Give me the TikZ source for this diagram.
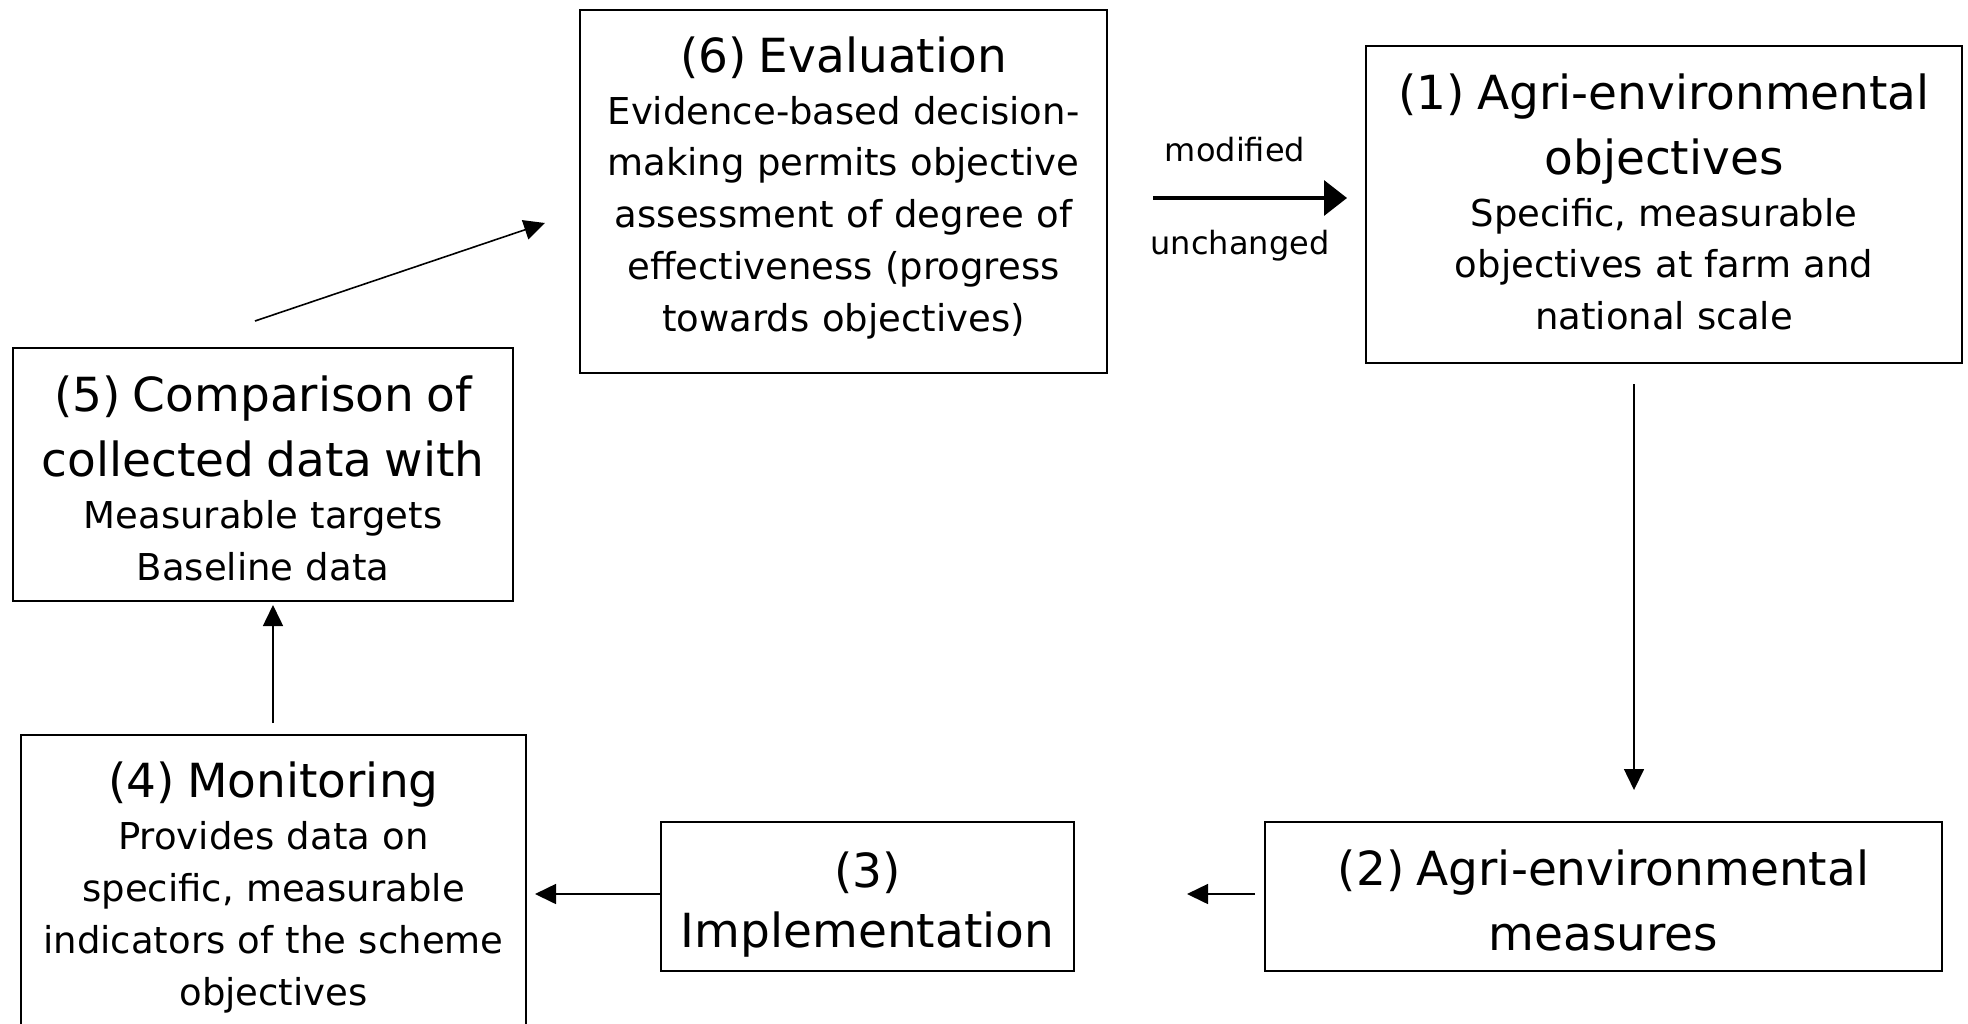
\documentclass[tikz,border=0pt]{standalone}
\usepackage{fontspec}
\setmainfont{DejaVu Sans}
\usetikzlibrary{arrows.meta}
\newcommand\bfnt{\fontsize{18.5pt}{25.9pt}\selectfont}
\newcommand\hd[1]{{\fontsize{23.5pt}{32.5pt}\selectfont #1\par}}
\begin{document}
\begin{tikzpicture}[x=0.5pt,y=-0.5pt,
  box/.style={draw, line width=1pt, inner xsep=0pt, inner ysep=0pt, align=center, font=\bfnt},
  thinarrow/.style={-{Triangle[length=10.5pt,width=10pt]}, line width=0.8pt},
  thickarrow/.style={-{Triangle[length=11.5pt,width=17.5pt]}, line width=1.7pt},
  lbl/.style={font=\fontsize{16pt}{19pt}\selectfont, inner sep=0pt, anchor=base}]
\useasboundingbox (0,0) rectangle (1968,1023);
\clip (0,0) rectangle (1968,1023);
\fill[white] (0,0) rectangle (1968,1023);

\node[box, text width=263.5pt, minimum height=181.5pt] (n6) at (843.5,191.5)
  {\hd{(6) Evaluation}Evidence-based decision-\par making permits objective\par assessment of degree of\par effectiveness (progress\par towards objectives)\par\kern3.8pt};
\node[box, text width=298pt, minimum height=158.5pt] (n1) at (1664,204.5)
  {\hd{(1) Agri-environmental\par objectives}Specific, measurable\par objectives at farm and\par national scale\par\kern2.5pt};
\node[box, text width=250pt, minimum height=126.5pt] (n5) at (263,474.5)
  {\hd{(5) Comparison of\par collected data with}Measurable targets\par Baseline data\par\kern-3.8pt};
\node[box, text width=252.5pt, minimum height=152.5pt] (n4) at (273.5,887.5)
  {\hd{(4) Monitoring}Provides data on\par specific, measurable\par indicators of the scheme\par objectives};
\node[box, text width=206.5pt, minimum height=74.5pt] (n3) at (867.5,896.5)
  {{\fontsize{23.5pt}{30pt}\selectfont (3)\par Implementation\par}\kern-8pt};
\node[box, text width=338.5pt, minimum height=74.5pt] (n2) at (1603.5,896.5)
  {\hd{(2) Agri-environmental\par measures}\kern-3.8pt};

\coordinate (a1) at (255,321);   \coordinate (a2) at (545,223);
\coordinate (b1) at (1153,198);  \coordinate (b2) at (1347,198);
\coordinate (c1) at (1634,384);  \coordinate (c2) at (1634,790);
\coordinate (d1) at (1255,894);  \coordinate (d2) at (1187,894);
\coordinate (e1) at (660,894);   \coordinate (e2) at (535,894);
\coordinate (f1) at (273,723);   \coordinate (f2) at (273,605);

\draw[thinarrow] (a1) -- (a2);
\draw[thickarrow] (b1) -- (b2);
\draw[thinarrow] (c1) -- (c2);
\draw[thinarrow] (d1) -- (d2);
\draw[thinarrow] (e1) -- (e2);
\draw[thinarrow] (f1) -- (f2);

\node[lbl] (lm) at (1235,161) {modified};
\node[lbl] (lu) at (1240,254) {unchanged};
\end{tikzpicture}
\end{document}
